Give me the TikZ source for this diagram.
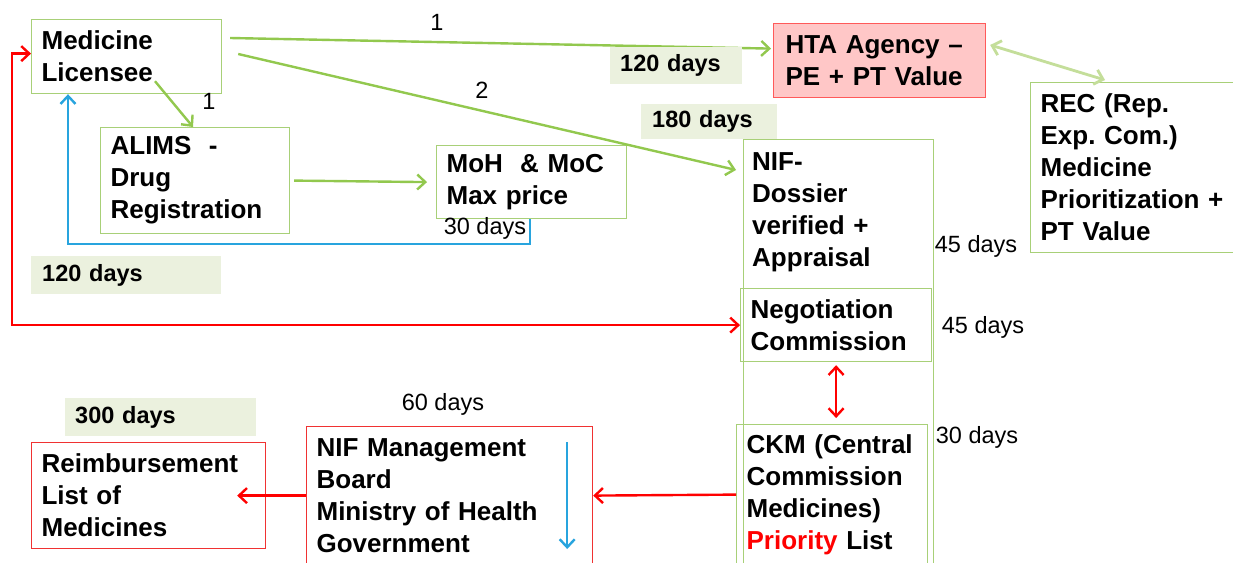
\documentclass[tikz,border=0pt]{standalone}
\usepackage{fontspec}
\setmainfont{Liberation Sans}
\usetikzlibrary{arrows.meta,calc}
\frenchspacing

\definecolor{boxgreen}{RGB}{168,208,120}
\definecolor{arrgreen}{RGB}{146,200,78}
\definecolor{palegreen}{RGB}{196,222,154}
\definecolor{tagfill}{RGB}{235,241,222}
\definecolor{linered}{RGB}{255,0,0}
\definecolor{boxred}{RGB}{240,50,50}
\definecolor{htafill}{RGB}{255,199,199}
\definecolor{htaborder}{RGB}{255,90,90}
\definecolor{lineblue}{RGB}{40,164,222}

\newcommand\flowboxfont{\fontsize{26}{32}\selectfont\bfseries}
\newcommand\tagfont{\fontsize{23.5}{27}\selectfont\bfseries}
\newcommand\notefont{\fontsize{23.5}{27}\selectfont}

\begin{document}
\begin{tikzpicture}[x=1pt,y=-1pt,
  stage/.style={draw=boxgreen,line width=1.2pt,anchor=north west,
    inner xsep=10pt,inner ysep=0pt,align=left,font=\flowboxfont},
  redstage/.style={stage,draw=boxred},
  tag/.style={fill=tagfill,anchor=north west,inner xsep=10pt,
    inner ysep=0pt,align=left,font=\tagfont},
  note/.style={font=\notefont,inner sep=0pt},
  tip/.tip={Straight Barb[length=8pt,width=15pt]},
  flow/.style={draw=arrgreen,line width=2.4pt,-tip},
  paleflow/.style={draw=palegreen,line width=2.8pt,tip-tip},
  redflow/.style={draw=linered,line width=2.4pt,-tip},
  redboth/.style={draw=linered,line width=2.4pt,tip-tip},
  blueflow/.style={draw=lineblue,line width=2.4pt,-tip}]

\fill[white] (0,0) rectangle (1233,562);
\useasboundingbox (0,0) rectangle (1233,562);

% process stages
\node[stage,text width=170pt,minimum height=74pt] (ml) at (31,19) {Medicine\\Licensee};
\node[stage,text width=169pt,minimum height=106pt] (alims) at (100,127) {ALIMS\ \ -\\Drug\\Registration};
\node[stage,text width=170pt,minimum height=73pt] (moh) at (436,145) {MoH\ \ \& MoC\\Max price};
\node[stage,draw=htaborder,fill=htafill,inner xsep=12pt,text width=188pt,minimum height=74pt] (hta) at (773,23) {HTA Agency –\\PE + PT Value};
\node[stage,text width=186pt,minimum height=170pt] (rec) at (1030,82) {REC (Rep.\\Exp. Com.)\\Medicine\\Prioritization +\\PT Value};

% NIF column frame with its heading text
\node[stage,minimum width=190pt,minimum height=440pt] (nif) at (743,139) {};
\node[anchor=north west,inner xsep=9pt,inner ysep=0pt,align=left,font=\flowboxfont,text width=172pt] (niftext) at ([yshift=-13pt]nif.north west) {NIF-\\Dossier\\verified +\\Appraisal};
\node[stage,text width=171pt,minimum height=73pt] (neg) at (740,288) {Negotiation\\Commission};
\node[stage,text width=171pt,minimum height=140pt] (ckm) at (736,424) {CKM (Central\\Commission\\Medicines)\\{\color{linered}Priority} List};

% final stages
\node[redstage,text width=266pt,minimum height=138pt] (nifm) at (306,426) {NIF Management\\Board\\Ministry of Health\\Government};
\node[redstage,text width=214pt,minimum height=106pt] (reimb) at (31,442) {Reimbursement\\List of\\Medicines};

% connectors
\draw[flow] ([xshift=8pt,yshift=-19pt]ml.north east) -- ([xshift=-2pt,yshift=12pt]hta.west);
\draw[flow] ([xshift=16pt,yshift=-35pt]ml.north east) -- ([xshift=-7pt,yshift=-31pt]nif.north west);
\draw[flow] ([xshift=124pt,yshift=13pt]ml.south west) -- ([xshift=93pt]alims.north west);
\draw[flow] ([xshift=4pt]alims.east) -- ([xshift=-9pt]moh.west);
\draw[blueflow] ([xshift=94pt]moh.south west) -- ++(0,25) -| ([xshift=37pt]ml.south west);
\draw[paleflow] ([xshift=4pt,yshift=-22pt]hta.north east) -- ([xshift=75pt,yshift=2pt]rec.north west);
\draw[redboth] (neg.west) -- ++(-728,0) |- ([yshift=3pt]ml.west);
\draw[redboth] ([yshift=-3pt]neg.south) -- ([yshift=6pt]neg.south |- ckm.north);
\draw[redflow] (ckm.west) -- (nifm.east);
\draw[redflow] (nifm.west) -- ($(nifm.west -| reimb.east)+(-29,0)$);
\draw[blueflow] ([xshift=-26pt,yshift=-16pt]nifm.north east) -- ([xshift=-26pt,yshift=-123pt]nifm.north east);

% step numbers and durations
\node[note] (n1a) at (437,22) {1};
\node[note] (n2) at (482,90) {2};
\node[note] (n1b) at (209,101) {1};
\node[note] (d30a) at (485,228) {30 days};
\node[note] (d45a) at (976,246) {45 days};
\node[note] (d45b) at (983,327) {45 days};
\node[note] (d30b) at (977,437) {30 days};
\node[note] (d60) at (443,404) {60 days};

% highlighted durations
\node[tag,text width=112pt,minimum height=37pt] (t120a) at (610,47) {120 days};
\node[tag,inner xsep=11pt,text width=114pt,minimum height=35pt] (t180) at (641,104) {180 days};
\node[tag,inner xsep=11pt,text width=168pt,minimum height=38pt] (t120b) at (31,256) {120 days};
\node[tag,text width=171pt,minimum height=38pt] (t300) at (65,398) {300 days};
\end{tikzpicture}
\end{document}
